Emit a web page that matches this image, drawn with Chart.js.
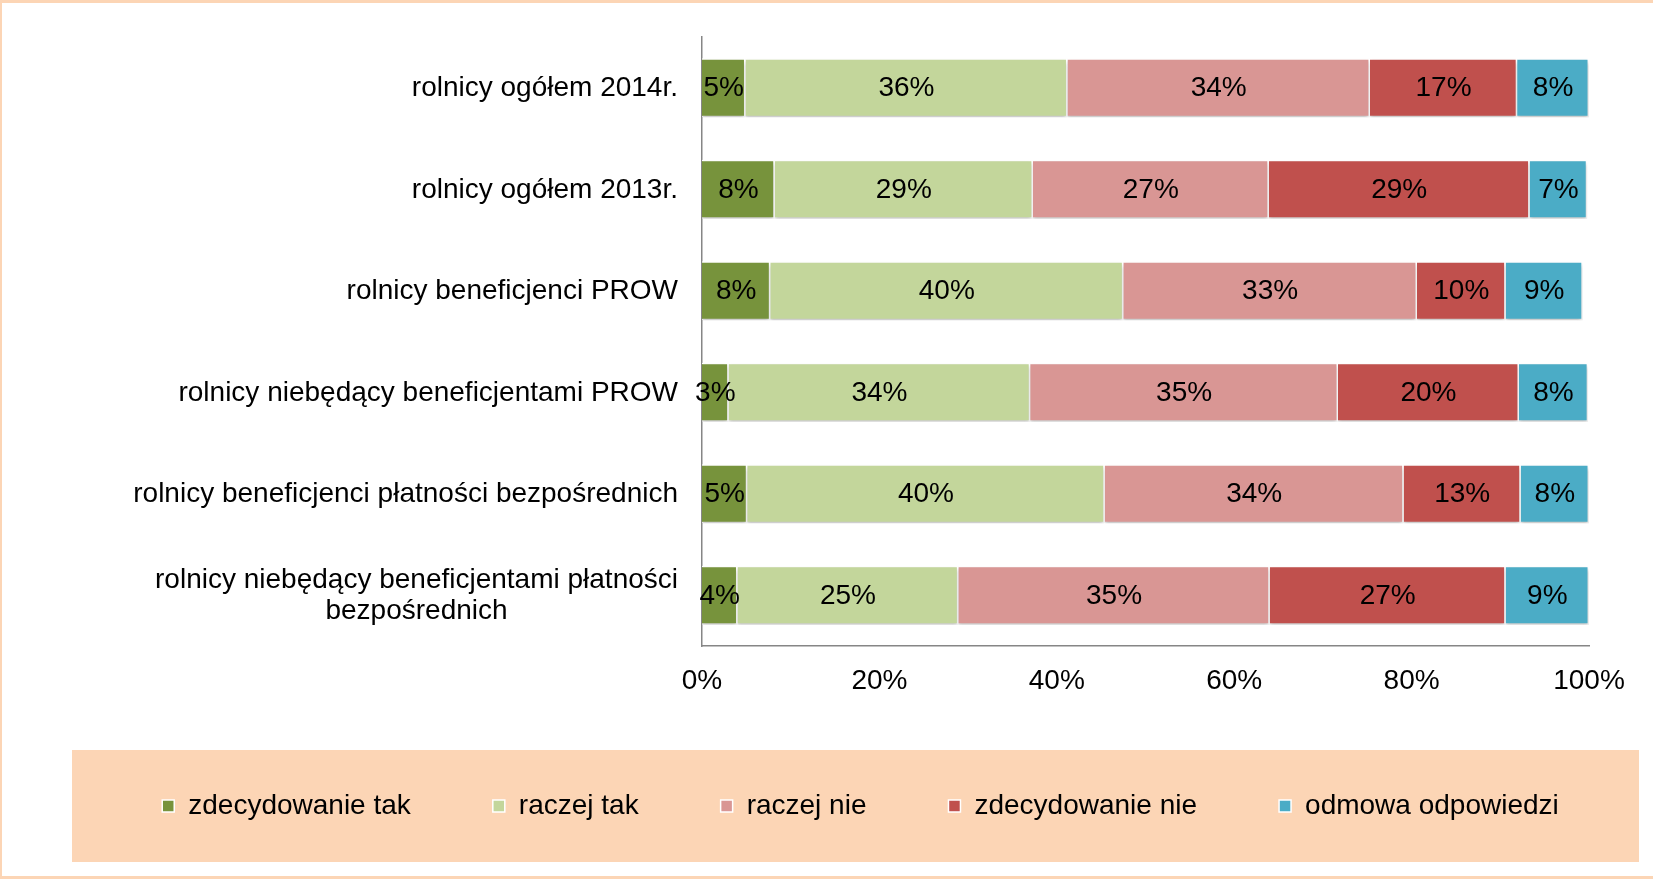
<!DOCTYPE html>
<html>
<head>
<meta charset="utf-8">
<script src="https://cdn.jsdelivr.net/npm/chart.js@4.4.1/dist/chart.umd.min.js"></script>
<style>
html, body { margin: 0; background: #fff; }
#frame {
  position: absolute; left: 0; top: 0; width: 1653px; height: 879px; box-sizing: border-box;
  border-top: 3px solid #FCD5B5; border-left: 2px solid #FCD5B5; border-bottom: 3px solid #FCD5B5;
}
#wrap { position: relative; width: 1651px; height: 873px; }
</style>
</head>
<body>
<div id="frame"><div id="wrap"><canvas id="surveyChart"></canvas></div></div>
<script>
const categories = [
  'rolnicy ogółem 2014r.',
  'rolnicy ogółem 2013r.',
  'rolnicy beneficjenci PROW',
  'rolnicy niebędący beneficjentami PROW',
  'rolnicy beneficjenci płatności bezpośrednich',
  ['rolnicy niebędący beneficjentami płatności', 'bezpośrednich']
];
const seriesNames = ['zdecydowanie tak', 'raczej tak', 'raczej nie', 'zdecydowanie nie', 'odmowa odpowiedzi'];
const zdecydowanieTak = [4.9, 8.2, 7.7, 3.0, 5.1, 4.0];
const raczejTak = [36.3, 29.1, 39.8, 34.0, 40.3, 24.9];
const raczejNie = [34.1, 26.6, 33.1, 34.7, 33.7, 35.1];
const zdecydowanieNie = [16.6, 29.4, 10.0, 20.4, 13.2, 26.6];
const odmowa = [8.1, 6.5, 8.7, 7.8, 7.7, 9.4];
const xTicks = [0, 20, 40, 60, 80, 100];

const seriesColors = ['#77933C', '#C3D69B', '#D99694', '#C0504D', '#4BACC6'];
const fontFamily = "'Liberation Sans', Arial, sans-serif";
const fontSize = 28;
Chart.defaults.font.family = fontFamily;
Chart.defaults.color = '#000';

const seriesValues = [zdecydowanieTak, raczejTak, raczejNie, zdecydowanieNie, odmowa];

// peach legend panel behind the legend items
const legendPanel = {
  id: 'legendPanel',
  beforeDraw(chart) {
    const lg = chart.legend;
    if (!lg || !lg.legendHitBoxes.length) return;
    const hb = lg.legendHitBoxes[0];
    const cy = hb.top + hb.height / 2;
    const ctx = chart.ctx;
    ctx.save();
    ctx.fillStyle = '#FCD5B5';
    ctx.fillRect(lg.left, cy - 56, lg.right - lg.left - 10, 112);
    ctx.restore();
  }
};

// soft shadow under the bars
const barShadow = {
  id: 'barShadow',
  beforeDatasetsDraw(chart) {
    const ctx = chart.ctx;
    ctx.save();
    ctx.shadowColor = 'rgba(0,0,0,0.22)';
    ctx.shadowBlur = 4;
    ctx.shadowOffsetY = 3;
  },
  afterDatasetsDraw(chart) {
    chart.ctx.restore();
  }
};

// percent labels in the middle of each segment
const segmentLabels = {
  id: 'segmentLabels',
  afterDatasetsDraw(chart) {
    const ctx = chart.ctx;
    ctx.save();
    ctx.font = fontSize + 'px ' + fontFamily;
    ctx.fillStyle = '#000';
    ctx.textAlign = 'center';
    ctx.textBaseline = 'middle';
    chart.data.datasets.forEach((ds, di) => {
      chart.getDatasetMeta(di).data.forEach((bar, i) => {
        const p = bar.getProps(['x', 'y', 'base'], true);
        ctx.fillText(Math.round(ds.data[i]) + '%', (p.x + p.base) / 2, p.y + 1);
      });
    });
    ctx.restore();
  }
};

// category labels: right aligned block, lines centred inside the block
const categoryLabels = {
  id: 'categoryLabels',
  afterDraw(chart) {
    const ctx = chart.ctx;
    const yScale = chart.scales.y;
    const right = chart.chartArea.left - 24;
    const lineH = 31;
    ctx.save();
    ctx.font = fontSize + 'px ' + fontFamily;
    ctx.fillStyle = '#000';
    ctx.textBaseline = 'middle';
    ctx.textAlign = 'center';
    categories.forEach((label, i) => {
      const lines = Array.isArray(label) ? label : [label];
      const w = Math.max(...lines.map(l => ctx.measureText(l).width));
      const cx = right - w / 2;
      const cy = yScale.getPixelForValue(i) + 1;
      lines.forEach((l, k) => {
        ctx.fillText(l, cx, cy + (k - (lines.length - 1) / 2) * lineH);
      });
    });
    ctx.restore();
  }
};

new Chart(document.getElementById('surveyChart'), {
  type: 'bar',
  data: {
    labels: categories,
    datasets: seriesNames.map((name, i) => ({
      label: name,
      data: seriesValues[i],
      backgroundColor: seriesColors[i],
      borderColor: '#ffffff',
      borderWidth: 1.5,
      barPercentage: 0.58,
      categoryPercentage: 1
    }))
  },
  options: {
    indexAxis: 'y',
    responsive: true,
    maintainAspectRatio: false,
    animation: false,
    layout: { padding: { left: 70, right: 4, top: 34, bottom: 46 } },
    plugins: {
      tooltip: { enabled: false },
      legend: {
        position: 'bottom',
        labels: {
          boxWidth: 12,
          boxHeight: 12,
          padding: 82,
          color: '#000',
          font: { size: fontSize }
        }
      }
    },
    scales: {
      x: {
        stacked: true,
        min: 0,
        max: 100,
        afterBuildTicks(scale) { scale.ticks = xTicks.map(v => ({ value: v })); },
        afterFit(scale) { scale.height = 64; scale.paddingRight = 64; },
        grid: { display: false },
        border: { display: true, color: '#868686', width: 1.5 },
        ticks: { padding: 10, color: '#000', font: { size: fontSize }, callback: v => v + '%' }
      },
      y: {
        stacked: true,
        afterFit(scale) { scale.width = 630; },
        grid: { display: false },
        border: { display: true, color: '#868686', width: 1.5 },
        ticks: { display: false }
      }
    }
  },
  plugins: [legendPanel, barShadow, segmentLabels, categoryLabels]
});
</script>
</body>
</html>
